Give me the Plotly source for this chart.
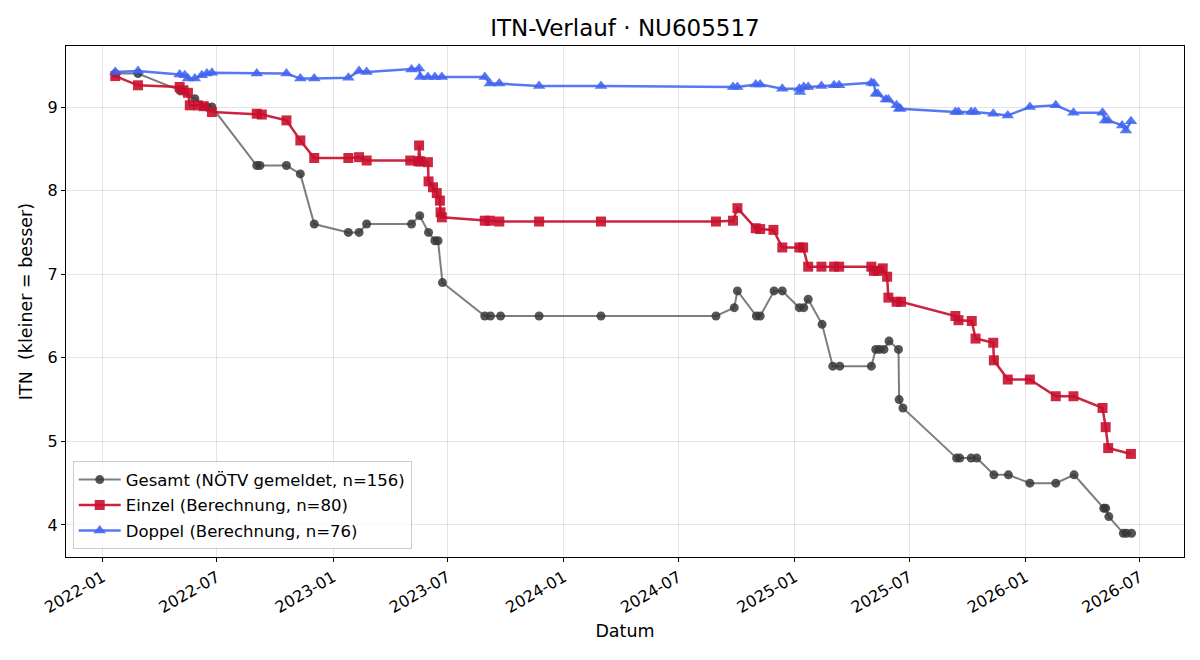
import plotly.graph_objects as go

gesamt_dates = ["2022-01-21","2022-02-26","2022-05-03","2022-05-27","2022-06-15","2022-06-23",
 "2022-09-02","2022-09-07","2022-10-19","2022-11-10","2022-12-02","2023-01-25","2023-02-11","2023-02-23",
 "2023-05-05","2023-05-18","2023-06-01","2023-06-11","2023-06-16","2023-06-23","2023-08-29","2023-09-07",
 "2023-09-23","2023-11-23","2024-02-29","2024-08-29","2024-09-27","2024-10-02","2024-11-01","2024-11-07",
 "2024-11-29","2024-12-12","2025-01-08","2025-01-15","2025-01-22","2025-02-13","2025-03-02","2025-03-13",
 "2025-05-02","2025-05-09","2025-05-15","2025-05-22","2025-05-30","2025-06-14","2025-06-15","2025-06-21",
 "2025-09-14","2025-09-19","2025-10-07","2025-10-16","2025-11-12","2025-12-05","2026-01-08","2026-02-18",
 "2026-03-19","2026-05-05","2026-05-08","2026-05-13","2026-06-05","2026-06-10","2026-06-18"]
gesamt_vals = [9.4,9.4,9.2,9.1,9.0,9.0,
 8.3,8.3,8.3,8.2,7.6,7.5,7.5,7.6,
 7.6,7.7,7.5,7.4,7.4,6.9,6.5,6.5,
 6.5,6.5,6.5,6.5,6.6,6.8,6.5,6.5,
 6.8,6.8,6.6,6.6,6.7,6.4,5.9,5.9,
 5.9,6.1,6.1,6.1,6.2,6.1,5.5,5.4,
 4.8,4.8,4.8,4.8,4.6,4.6,4.5,4.5,
 4.6,4.2,4.2,4.1,3.9,3.9,3.9]

einzel_dates = ["2022-01-21","2022-02-26","2022-05-03","2022-05-09","2022-05-16","2022-05-19","2022-06-01",
 "2022-06-10","2022-06-23","2022-09-02","2022-09-10","2022-10-19","2022-11-10","2022-12-02","2023-01-25",
 "2023-02-11","2023-02-23","2023-05-03","2023-05-16","2023-05-17","2023-05-19","2023-05-31","2023-06-01",
 "2023-06-08","2023-06-14","2023-06-19","2023-06-20","2023-06-22","2023-08-29","2023-09-06","2023-09-21",
 "2023-11-23","2024-02-29","2024-08-29","2024-09-25","2024-10-02","2024-10-31","2024-11-07","2024-11-28",
 "2024-12-12","2025-01-08","2025-01-14","2025-01-22","2025-02-12","2025-03-04","2025-03-12","2025-05-02",
 "2025-05-06","2025-05-12","2025-05-20","2025-05-27","2025-05-29","2025-06-11","2025-06-18","2025-09-12",
 "2025-09-17","2025-10-08","2025-10-14","2025-11-11","2025-11-12","2025-12-04","2026-01-08","2026-02-18",
 "2026-03-18","2026-05-03","2026-05-08","2026-05-12","2026-06-17"]
einzel_vals = [9.37,9.26,9.24,9.20,9.17,9.02,9.02,
 9.01,8.94,8.92,8.91,8.84,8.60,8.39,8.39,
 8.40,8.36,8.36,8.35,8.54,8.35,8.34,8.11,
 8.04,7.97,7.88,7.74,7.68,7.64,7.64,7.63,
 7.63,7.63,7.63,7.64,7.79,7.55,7.54,7.53,
 7.32,7.32,7.32,7.09,7.09,7.09,7.09,7.09,
 7.04,7.04,7.07,6.97,6.72,6.67,6.67,6.50,
 6.45,6.44,6.23,6.18,5.97,5.74,5.74,5.54,
 5.54,5.40,5.17,4.92,4.85]

doppel_dates = ["2022-01-21","2022-02-26","2022-05-03","2022-05-11","2022-05-16","2022-05-27","2022-06-07",
 "2022-06-15","2022-06-23","2022-09-02","2022-10-19","2022-11-10","2022-12-02","2023-01-25","2023-02-11",
 "2023-02-23","2023-05-05","2023-05-17","2023-05-19","2023-05-31","2023-06-11","2023-06-22","2023-08-29",
 "2023-09-06","2023-09-21","2023-11-23","2024-02-29","2024-09-25","2024-10-02","2024-10-31","2024-11-07",
 "2024-12-12","2025-01-08","2025-01-09","2025-01-15","2025-01-22","2025-02-12","2025-03-04","2025-03-12",
 "2025-05-02","2025-05-06","2025-05-09","2025-05-12","2025-05-25","2025-05-29","2025-06-11","2025-06-15",
 "2025-06-17","2025-09-12","2025-09-17","2025-10-07","2025-10-13","2025-11-11","2025-12-04","2026-01-08",
 "2026-02-18","2026-03-18","2026-05-03","2026-05-07","2026-05-12","2026-06-03","2026-06-09","2026-06-17"]
doppel_vals = [9.42,9.43,9.39,9.38,9.34,9.34,9.38,
 9.40,9.41,9.40,9.40,9.34,9.34,9.35,9.43,
 9.42,9.45,9.46,9.36,9.36,9.36,9.36,9.36,
 9.28,9.28,9.25,9.25,9.24,9.24,9.27,9.27,
 9.22,9.22,9.18,9.24,9.24,9.25,9.26,9.26,
 9.29,9.28,9.16,9.16,9.09,9.09,9.02,8.98,
 8.98,8.94,8.94,8.94,8.94,8.92,8.90,9.00,
 9.02,8.93,8.93,8.84,8.84,8.78,8.72,8.83]

FONT = "DejaVu Sans"
fig = go.Figure()
fig.add_trace(go.Scatter(x=gesamt_dates, y=gesamt_vals, mode="lines+markers",
    name="Gesamt (NÖTV gemeldet, n=156)", legendgroup="g",
    line=dict(color="rgba(70,70,70,0.7)", width=2),
    marker=dict(symbol="circle", size=9, color="rgba(55,55,55,0.85)")))
fig.add_trace(go.Scatter(x=einzel_dates, y=einzel_vals, mode="lines+markers",
    name="Einzel (Berechnung, n=80)", legendgroup="e",
    line=dict(color="rgba(200,16,46,0.92)", width=2.5),
    marker=dict(symbol="square", size=10, color="rgba(200,16,46,0.9)")))
fig.add_trace(go.Scatter(x=doppel_dates, y=doppel_vals, mode="lines+markers",
    name="Doppel (Berechnung, n=76)", legendgroup="d",
    line=dict(color="rgba(65,100,240,0.88)", width=2.5),
    marker=dict(symbol="triangle-up", size=11, color="rgba(65,100,240,0.88)")))

axis_common = dict(showline=True, linecolor="black", linewidth=1, mirror=True,
    ticks="outside", ticklen=4, tickcolor="black", showgrid=True,
    gridcolor="rgba(0,0,0,0.1)", zeroline=False,
    tickfont=dict(family=FONT, size=16, color="black"))

fig.update_layout(
    width=1200, height=660, plot_bgcolor="white", paper_bgcolor="white",
    margin=dict(l=66, r=16, t=46, b=103),
    font=dict(family=FONT, color="black"),
    title=dict(text="ITN-Verlauf · NU605517", xref="paper", x=0.5, xanchor="center",
               y=0.958, yanchor="middle",
               font=dict(family=FONT, size=23, color="black")),
    xaxis=dict(axis_common, range=["2021-11-04", "2026-09-09"], type="date",
               tick0="2022-01-01", dtick="M6", tickformat="%Y-%m", tickangle=-30,
               title=dict(text="Datum", font=dict(family=FONT, size=17.5), standoff=8)),
    yaxis=dict(axis_common, range=[3.617, 9.73], tickvals=[4,5,6,7,8,9],
               title=dict(text="ITN\u00a0 (kleiner = besser)", font=dict(family=FONT, size=17.5), standoff=10)),
    legend=dict(x=0.006, y=0.015, xanchor="left", yanchor="bottom",
                bgcolor="rgba(255,255,255,0.8)", bordercolor="rgba(0,0,0,0.2)", borderwidth=1,
                font=dict(family=FONT, size=16.5), tracegroupgap=1, itemwidth=42),
    showlegend=True,
)
fig.write_html("out.html")
